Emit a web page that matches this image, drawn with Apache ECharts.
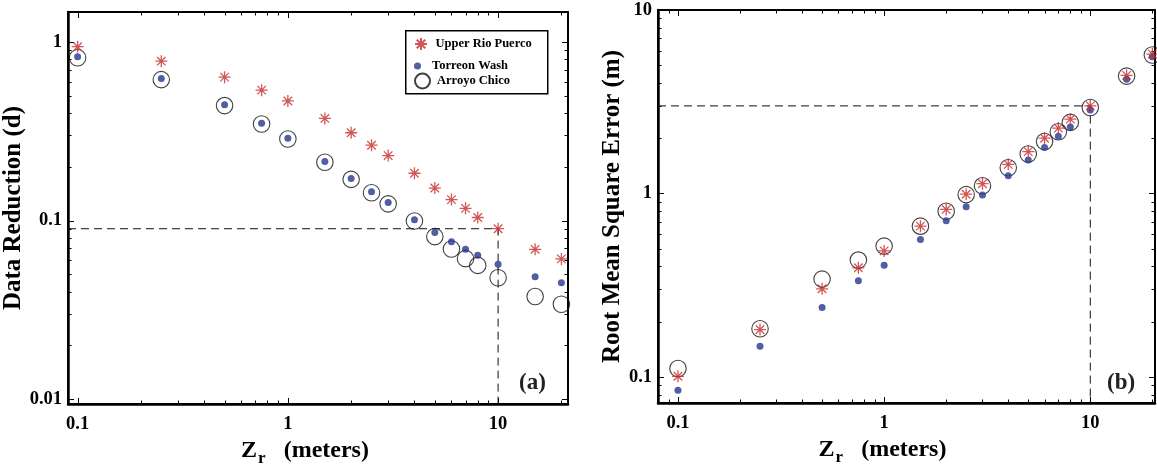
<!DOCTYPE html>
<html>
<head>
<meta charset="utf-8">
<script src="https://cdn.jsdelivr.net/npm/echarts@6/dist/echarts.min.js"></script>
<style>
  html, body { margin: 0; padding: 0; background: #fff; }
  #chart { width: 1157px; height: 465px; }
</style>
</head>
<body>
<div id="chart"></div>
<script>
// Reference heights Z_r (meters)
const zr = [0.1, 0.25, 0.5, 0.75, 1, 1.5, 2, 2.5, 3, 4, 5, 6, 7, 8, 10, 15, 20];

// Panel (a): data reduction d
const reductionRioPuerco = [0.94, 0.78, 0.635, 0.537, 0.467, 0.373, 0.310, 0.264, 0.231, 0.184, 0.152, 0.131, 0.117, 0.104, 0.09, 0.069, 0.061];
const reductionTorreon   = [0.826, 0.624, 0.445, 0.350, 0.289, 0.214, 0.172, 0.145, 0.126, 0.101, 0.0857, 0.076, 0.069, 0.064, 0.057, 0.0484, 0.0448];
const reductionArroyo    = [0.815, 0.615, 0.44, 0.347, 0.286, 0.212, 0.170, 0.143, 0.124, 0.0995, 0.0813, 0.0693, 0.0612, 0.0561, 0.0478, 0.0376, 0.034];

// Panel (b): root mean square error (m)
const rmseRioPuerco = [0.1007, 0.181, 0.302, 0.393, 0.486, 0.663, 0.818, 0.99, 1.13, 1.44, 1.69, 2.0, 2.27, 2.54, 3.0, 4.40, 5.75];
const rmseTorreon   = [0.0845, 0.147, 0.239, 0.334, 0.406, 0.561, 0.709, 0.845, 0.98, 1.25, 1.52, 1.78, 2.05, 2.30, 2.85, 4.19, 5.56];
const rmseArroyo    = [0.111, 0.183, 0.341, 0.433, 0.516, 0.663, 0.80, 0.985, 1.10, 1.38, 1.64, 1.92, 2.17, 2.44, 2.94, 4.36, 5.68];

// Dashed guide lines: chosen Z_r and the matching value
const guideA = { x: 10, y: 0.09 };
const guideB = { x: 10, y: 3 };

// Tick labels
const xTickValues = [0.1, 1, 10];
const xTickLabels = ['0.1', '1', '10'];
const yTickValuesA = [0.01, 0.1, 1];
const yTickLabelsA = ['0.01', '0.1', '1'];
const yTickValuesB = [0.1, 1, 10];
const yTickLabelsB = ['0.1', '1', '10'];

const seriesNames = ['Upper Rio Puerco', 'Torreon Wash', 'Arroyo Chico'];

// Axis ranges
const rangeA = { xMin: 0.09, xMax: 21.5, yMin: 0.0094, yMax: 1.47 };
const rangeB = { xMin: 0.08, xMax: 20.6, yMin: 0.072, yMax: 10 };

const FONT = "'Liberation Serif', 'DejaVu Serif', serif";
const RED = '#c62c2a';
const BLUE = '#25348f';
const STAR = 'path://M0,-10L0,10M-10,0L10,0M-7.07,-7.07L7.07,7.07M-7.07,7.07L7.07,-7.07';

function labelFor(values, labels) {
  return function (v) {
    for (let i = 0; i < values.length; i++) {
      if (Math.abs(v - values[i]) < values[i] * 1e-6) return labels[i];
    }
    return '';
  };
}

// Log-decade tick marks (1..9 x 10^k) inside the range
function logTicks(min, max) {
  const out = [];
  for (let e = Math.floor(Math.log10(min)); e <= Math.ceil(Math.log10(max)); e++) {
    for (let k = 1; k <= 9; k++) {
      const v = k * Math.pow(10, e);
      if (v >= min * 0.9999 && v <= max * 1.0001) out.push([v, k === 1 ? 1 : 0]);
    }
  }
  return out;
}

function tickData(r) {
  const d = [];
  logTicks(r.xMin, r.xMax).forEach(t => d.push([t[0], r.yMin, t[1], 0]));
  logTicks(r.yMin, r.yMax).forEach(t => d.push([r.xMin, t[0], t[1], 1]));
  return d;
}

// Inward ticks on all four sides of the frame
function renderTicks(params, api) {
  const cs = params.coordSys;
  const major = api.value(2);
  const dir = api.value(3);
  const len = major ? 6 : 3.5;
  const style = { stroke: '#000', lineWidth: 1 };
  if (dir === 0) {
    const x = Math.round(api.coord([api.value(0), api.value(1)])[0]) + 0.5;
    const yb = cs.y + cs.height, yt = cs.y;
    return { type: 'group', children: [
      { type: 'line', shape: { x1: x, y1: yb, x2: x, y2: yb - len }, style },
      { type: 'line', shape: { x1: x, y1: yt, x2: x, y2: yt + len }, style }
    ]};
  }
  const y = Math.round(api.coord([api.value(0), api.value(1)])[1]) + 0.5;
  const xl = cs.x, xr = cs.x + cs.width;
  return { type: 'group', children: [
    { type: 'line', shape: { x1: xl, y1: y, x2: xl + len, y2: y }, style },
    { type: 'line', shape: { x1: xr, y1: y, x2: xr - len, y2: y }, style }
  ]};
}

function pairs(xs, ys) { return xs.map((x, i) => [x, ys[i]]); }

function xAxisFor(gridIndex, r, shiftPad) {
  return {
    type: 'log', logBase: 10, gridIndex, min: r.xMin, max: r.xMax,
    axisLine: { show: true, lineStyle: { color: '#000', width: 2.5 } },
    axisTick: { show: false },
    splitLine: { show: false },
    axisLabel: { formatter: labelFor(xTickValues, xTickLabels), color: '#000', fontFamily: FONT,
                 fontWeight: 'bold', fontSize: 18.5, margin: 11, showMinLabel: true, showMaxLabel: true },
    name: '{z|Z}{r|r}{z|   (meters)}',
    nameLocation: 'middle', nameGap: 27,
    nameTextStyle: {
      padding: [0, shiftPad, 0, 0],
      rich: {
        z: { fontFamily: FONT, fontWeight: 'bold', fontSize: 24, color: '#000' },
        r: { fontFamily: FONT, fontWeight: 'bold', fontSize: 17, color: '#000', padding: [16, 0, 0, 1] }
      }
    }
  };
}

function yAxisFor(gridIndex, r, values, labels, name, gap) {
  return {
    type: 'log', logBase: 10, gridIndex, min: r.yMin, max: r.yMax,
    axisLine: { show: true, lineStyle: { color: '#000', width: 2.5 } },
    axisTick: { show: false },
    splitLine: { show: false },
    axisLabel: { formatter: labelFor(values, labels), color: '#000', fontFamily: FONT,
                 fontWeight: 'bold', fontSize: 18.5, margin: 6, padding: [4, 0, 0, 0],
                 showMinLabel: true, showMaxLabel: true },
    name, nameLocation: 'middle', nameGap: gap,
    nameTextStyle: { fontFamily: FONT, fontWeight: 'bold', fontSize: 25, color: '#000' }
  };
}

function scatterSet(xi, yi, starY, dotY, ringY) {
  return [
    { name: seriesNames[2], type: 'scatter', xAxisIndex: xi, yAxisIndex: yi, data: pairs(zr, ringY),
      symbol: 'circle', symbolSize: 16.5, z: 3, silent: true,
      itemStyle: { color: 'rgba(255,255,255,0)', borderColor: '#111', borderWidth: 1.1 } },
    { name: seriesNames[1], type: 'scatter', xAxisIndex: xi, yAxisIndex: yi, data: pairs(zr, dotY),
      symbol: 'circle', symbolSize: 7, z: 4, silent: true,
      itemStyle: { color: BLUE } },
    { name: seriesNames[0], type: 'scatter', xAxisIndex: xi, yAxisIndex: yi, data: pairs(zr, starY),
      symbol: STAR, symbolSize: 12, z: 5, silent: true,
      itemStyle: { color: 'rgba(0,0,0,0)', borderColor: RED, borderWidth: 1.3 } }
  ];
}

function guideLine(xi, yi, r, g) {
  return {
    type: 'line', xAxisIndex: xi, yAxisIndex: yi, silent: true, z: 2,
    data: [[r.xMin, g.y], [g.x, g.y], [g.x, r.yMin]],
    symbol: 'none', animation: false,
    lineStyle: { color: '#111', width: 1, type: [8, 5] }
  };
}

function legendItem(name, top, h) {
  return {
    data: [name], orient: 'vertical', left: 414, top: top, padding: 0,
    itemWidth: 15, itemHeight: h, selectedMode: false,
    textStyle: { fontFamily: FONT, fontWeight: 'bold', fontSize: 12.5, color: '#000', padding: [0, 0, 0, 2] }
  };
}

const chart = echarts.init(document.getElementById('chart'), null, { renderer: 'canvas' });

const gridBase = { show: true, borderColor: '#000', borderWidth: 2, backgroundColor: 'transparent',
                   containLabel: false, outerBoundsMode: 'none' };

chart.setOption({
  animation: false,
  backgroundColor: '#fff',
  grid: [
    Object.assign({ left: 68, top: 12, width: 500, height: 392 }, gridBase),
    Object.assign({ left: 658, top: 10, width: 497, height: 393 }, gridBase)
  ],
  xAxis: [xAxisFor(0, rangeA, 26), xAxisFor(1, rangeB, 48)],
  yAxis: [
    yAxisFor(0, rangeA, yTickValuesA, yTickLabelsA, 'Data Reduction (d)', 27),
    yAxisFor(1, rangeB, yTickValuesB, yTickLabelsB, 'Root Mean Square Error (m)', 30)
  ],
  legend: [
    legendItem(seriesNames[0], 37, 12),
    legendItem(seriesNames[1], 59.5, 7),
    legendItem(seriesNames[2], 72.5, 15)
  ],
  graphic: [
    { type: 'rect', left: 405, top: 30, z: 3, silent: true,
      shape: { width: 142, height: 63 }, style: { fill: '#fff', stroke: '#000', lineWidth: 1.5 } },
    { type: 'text', left: 519, top: 372, silent: true,
      style: { text: '(a)', fontFamily: FONT, fontWeight: 'bold', fontSize: 23, fill: '#222' } },
    { type: 'text', left: 1107, top: 372, silent: true,
      style: { text: '(b)', fontFamily: FONT, fontWeight: 'bold', fontSize: 23, fill: '#222' } }
  ],
  series: [
    { type: 'custom', xAxisIndex: 0, yAxisIndex: 0, renderItem: renderTicks, data: tickData(rangeA), silent: true, z: 1 },
    { type: 'custom', xAxisIndex: 1, yAxisIndex: 1, renderItem: renderTicks, data: tickData(rangeB), silent: true, z: 1 },
    guideLine(0, 0, rangeA, guideA),
    guideLine(1, 1, rangeB, guideB),
    ...scatterSet(0, 0, reductionRioPuerco, reductionTorreon, reductionArroyo),
    ...scatterSet(1, 1, rmseRioPuerco, rmseTorreon, rmseArroyo)
  ]
});
</script>
</body>
</html>
